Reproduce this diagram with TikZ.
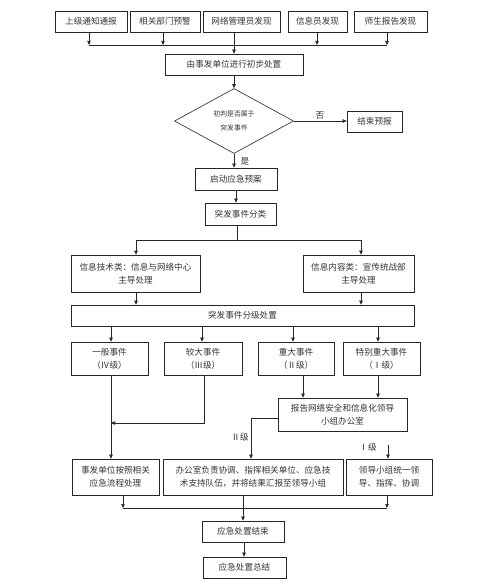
\documentclass[tikz,border=0pt]{standalone}
\usepackage{fontspec}
\newfontfamily\cjk{Noto Sans CJK SC}
\usetikzlibrary{arrows.meta,shapes.geometric}
\begin{document}
\begin{tikzpicture}[x=1pt,y=-1pt,
  font=\cjk\fontsize{8.6}{13}\selectfont,
  box/.style={draw=black!85,line width=0.6pt,inner sep=0pt,align=center,text=black!80},
  arr/.style={draw=black!85,line width=0.6pt,-{Triangle[length=4pt,width=3.4pt]}},
  ln/.style={draw=black!85,line width=0.6pt},
  lbl/.style={inner sep=0pt,text=black!80}]
\useasboundingbox[fill=white] (0,0) rectangle (499,583);
% top row
\node[box,minimum width=72,minimum height=21] (t1) at (91,21.5) {上级通知通报};
\node[box,minimum width=70,minimum height=21] (t2) at (165,21.5) {相关部门预警};
\node[box,minimum width=77,minimum height=21] (t3) at (241.5,21.5) {网络管理员发现};
\node[box,minimum width=59,minimum height=21] (t4) at (317.5,21.5) {信息员发现};
\node[box,minimum width=73,minimum height=21] (t5) at (390.5,21.5) {师生报告发现};
\coordinate (busL) at (89,45);
\coordinate (busR) at (387,45);
\draw[ln] (busL) -- (busR);
\draw[arr] (t1.south -| busL) -- (busL);
\draw[arr] (t2.south -| 163,0) -- (163,45);
\draw[arr] (t4.south -| 317,0) -- (317,45);
\draw[arr] (t5.south -| busR) -- (busR);
\node[box,minimum width=138,minimum height=21] (b1) at (234,64.5) {由事发单位进行初步处置};
\draw[arr] (t3.south -| b1.north) -- (b1.north);
\node[box,diamond,minimum width=119,minimum height=65,font=\cjk\fontsize{6.8}{14}\selectfont] (dm) at (234,121) {初判是否属于\\突发事件};
\draw[arr] (b1.south) -- (dm.north);
\node[box,minimum width=55,minimum height=21] (e1) at (374.5,121.5) {结束预报};
\draw[arr] (dm.east) -- (e1.west |- dm.east);
\node[lbl] (no) at (320,115) {否};
\node[box,minimum width=82,minimum height=22] (b2) at (236,179) {启动应急预案};
\draw[arr] (dm.south) -- (dm.south |- b2.north);
\node[lbl] (yes) at (245,161) {是};
\node[box,minimum width=71,minimum height=22] (b3) at (240.5,214) {突发事件分类};
\draw[arr] (b2.south -| 236,0) -- (b3.north -| 236,0);
% classification
\coordinate (cL) at (136,240);
\coordinate (cR) at (361,240);
\draw[ln] (b3.south -| 237,0) -- (237,240);
\draw[ln] (cL) -- (cR);
\node[box,minimum width=129,minimum height=37] (c1) at (135.5,273.5) {信息技术类：信息与网络中心\\主导处理};
\node[box,minimum width=111,minimum height=37] (c2) at (358.5,273.5) {信息内容类：宣传统战部\\主导处理};
\draw[arr] (cL) -- (cL |- c1.north);
\draw[arr] (cR) -- (cR |- c2.north);
\node[box,minimum width=343,minimum height=21] (d) at (242.5,315.5) {突发事件分级处置};
\draw[arr] (cL |- c1.south) -- (cL |- d.north);
\draw[arr] (cR |- c2.south) -- (cR |- d.north);
% levels
\node[box,minimum width=77,minimum height=33] (l4) at (109.5,358.5) {一般事件\\（Ⅳ级）};
\node[box,minimum width=78,minimum height=33] (l3) at (203,358.5) {较大事件\\（Ⅲ级）};
\node[box,minimum width=76,minimum height=33] (l2) at (296,358.5) {重大事件\\（Ⅱ级）};
\node[box,minimum width=77,minimum height=33] (l1) at (381.5,358.5) {特别重大事件\\（Ⅰ级）};
\draw[arr] (d.south -| 111,0) -- (l4.north -| 111,0);
\draw[arr] (d.south -| 202,0) -- (l3.north -| 202,0);
\draw[arr] (d.south -| 293,0) -- (l2.north -| 293,0);
\draw[arr] (d.south -| 378,0) -- (l1.north -| 378,0);
\node[box,minimum width=129,minimum height=33] (r) at (342.5,414.5) {报告网络安全和信息化领导\\小组办公室};
\draw[arr] (l2.south -| 303,0) -- (r.north -| 303,0);
\draw[arr] (l1.south -| 378,0) -- (r.north -| 378,0);
% bottom boxes
\node[box,minimum width=87,minimum height=36] (f1) at (115.5,477) {事发单位按照相关\\应急流程处理};
\node[box,minimum width=180,minimum height=36] (f2) at (253,477) {办公室负责协调、指挥相关单位、应急技\\术支持队伍，并将结果汇报至领导小组};
\node[box,minimum width=86,minimum height=36] (f3) at (389,477) {领导小组统一领\\导、指挥、协调};
\draw[arr] (l4.south -| 111,0) -- (f1.north -| 111,0);
\coordinate (j3) at (204,423);
\draw[arr] (l3.south -| j3) -- (j3) -- (111,423);
\coordinate (k2) at (251,418);
\draw[arr] (r.west |- k2) -- (k2) -- (k2 |- f2.north);
\node[lbl] (lv2) at (240,437) {Ⅱ级};
\coordinate (k1) at (388,445);
\draw[arr] (k1) -- (k1 |- f3.north);
\node[lbl] (lv1) at (368,447) {Ⅰ级};
% end
\coordinate (eL) at (123,508);
\coordinate (eR) at (387,508);
\draw[ln] (eL) -- (eR);
\draw[arr] (f1.south -| eL) -- (eL);
\draw[arr] (f3.south -| eR) -- (eR);
\node[box,minimum width=82,minimum height=21] (g1) at (243,531.5) {应急处置结束};
\draw[arr] (f2.south -| g1.north) -- (g1.north);
\node[box,minimum width=83,minimum height=21] (g2) at (244.5,567.5) {应急处置总结};
\draw[arr] (g1.south -| 244,0) -- (g2.north -| 244,0);
\end{tikzpicture}
\end{document}
